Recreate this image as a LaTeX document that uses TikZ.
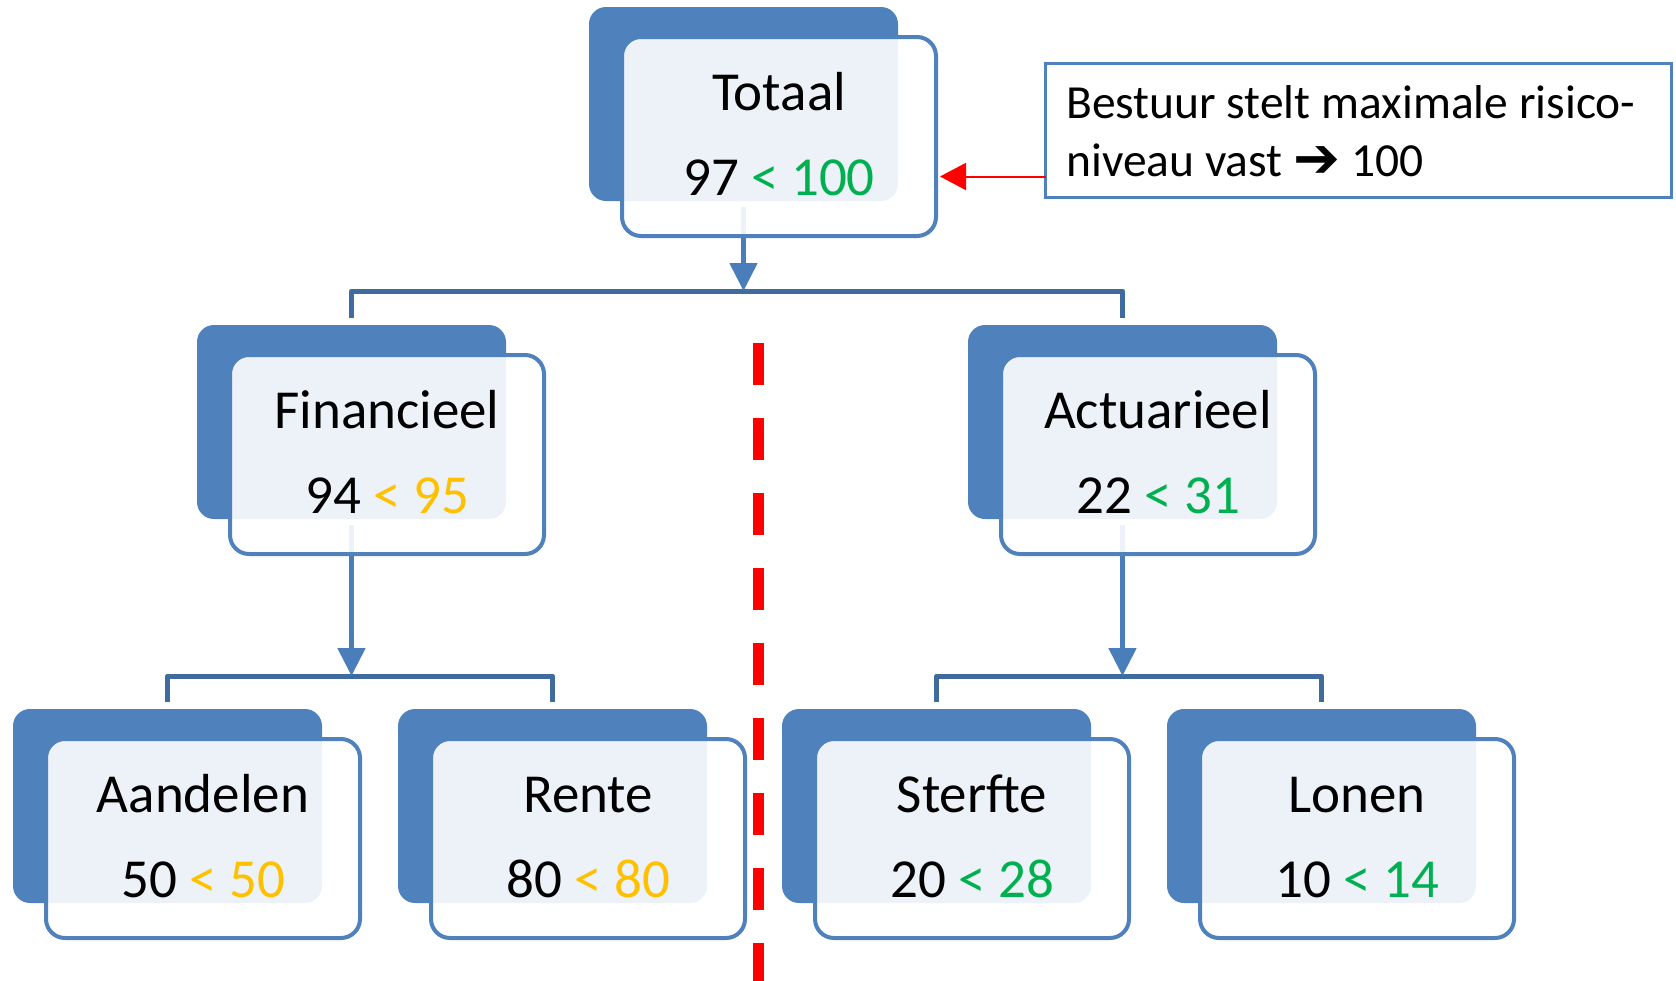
\documentclass[tikz,border=0pt]{standalone}
\usepackage{fontspec}
\setmainfont{Carlito}
\newfontfamily\symfont{DejaVu Sans Bold}
\usetikzlibrary{arrows.meta,calc,backgrounds}

\definecolor{accent}{HTML}{4F81BD}
\definecolor{linkblue}{HTML}{4A7EBB}
\definecolor{barblue}{HTML}{3F6B9F}
\definecolor{okgreen}{HTML}{00B050}
\definecolor{warnamber}{HTML}{FFC000}
\definecolor{alarmred}{HTML}{FF0000}

\tikzset{
  backcard/.style={fill=accent, rounded corners=17pt, minimum width=309pt,
    minimum height=194pt, inner sep=0pt, outer sep=0pt, anchor=north west},
  frontcard/.style={draw=accent, line width=4pt, fill=white, fill opacity=0.9,
    rounded corners=19pt, minimum width=314pt, minimum height=199pt,
    inner sep=0pt, outer sep=0pt, anchor=north west},
  cardtext/.style={font=\fontsize{55}{66}\selectfont, anchor=base, inner sep=0pt},
  notetext/.style={font=\fontsize{47.5}{57}\selectfont, anchor=base west, inner sep=0pt},
  link/.style={draw=linkblue, line width=5pt, -{Triangle[width=27pt,length=28pt]}},
  bar/.style={draw=barblue, line width=5pt, line join=round},
  pointer/.style={draw=alarmred, line width=2pt, -{Triangle[width=27pt,length=26pt]}},
  divider/.style={draw=alarmred, line width=11pt, dash pattern=on 42pt off 33pt},
}

% risk card: name, x, y (top left of the back card), title, value, limit, colour
\newcommand\riskcard[7]{%
  \node[backcard] (#1-back) at (#2,#3) {};
  \node[frontcard] (#1) at ({#2+33},{#3+30}) {};
  \node[cardtext] (#1-title) at ({#2+190},{#3+103}) {#4};
  \node[cardtext] (#1-value) at ({#2+190},{#3+188}) {#5 \textcolor{#7}{< #6}};
}

\begin{document}
\begin{tikzpicture}[x=1pt,y=-1pt]
\useasboundingbox (0,0) rectangle (1676,980);

\riskcard{tot}{589}{7}{Totaal}{97}{100}{okgreen}
\riskcard{fin}{197}{325}{Financieel}{94}{95}{warnamber}
\riskcard{act}{968}{325}{Actuarieel}{22}{31}{okgreen}
\riskcard{aan}{13}{709}{Aandelen}{50}{50}{warnamber}
\riskcard{ren}{398}{709}{Rente}{80}{80}{warnamber}
\riskcard{ste}{782}{709}{Sterfte}{20}{28}{okgreen}
\riskcard{lon}{1167}{709}{Lonen}{10}{14}{okgreen}

% junctions where the arrows meet the branching bars
\coordinate (j-top) at ($(tot-back.south)+(0,90)$);
\coordinate (j-fin) at ($(fin-back.south)+(0,157)$);
\coordinate (j-act) at ($(act-back.south)+(0,157)$);

\begin{scope}[on background layer]
  \draw[bar] ($(fin-back.north)+(0,-7)$) |- (j-top) -| ($(act-back.north)+(0,-7)$);
  \draw[bar] ($(aan-back.north)+(0,-7)$) |- (j-fin) -| ($(ren-back.north)+(0,-7)$);
  \draw[bar] ($(ste-back.north)+(0,-7)$) |- (j-act) -| ($(lon-back.north)+(0,-7)$);
  \draw[link] ($(tot-back.south)+(0,6)$) -- (j-top);
  \draw[link] ($(fin-back.south)+(0,6)$) -- (j-fin);
  \draw[link] ($(act-back.south)+(0,6)$) -- (j-act);
\end{scope}

% dividing line between financial and actuarial risks
\coordinate (split-top) at (758,343);
\coordinate (split-bottom) at (758,985);
\draw[divider] (split-top) -- (split-bottom);

% board note
\node[draw=accent, line width=3pt, minimum width=626pt, minimum height=134pt,
      inner sep=0pt, outer sep=0pt, anchor=north west] (note) at (1045.5,63.5) {};
\node[notetext] (note-line1) at (1066,118) {Bestuur stelt maximale risico-};
\node[notetext] (note-line2) at (1066,176) {niveau vast {\symfont\fontsize{56}{60}\selectfont\raisebox{-1pt}{➔}} 100};

\draw[pointer] ($(note.south west)+(0,-21)$) -- ($(tot.east |- note.south west)+(4,-21)$);

\end{tikzpicture}
\end{document}
